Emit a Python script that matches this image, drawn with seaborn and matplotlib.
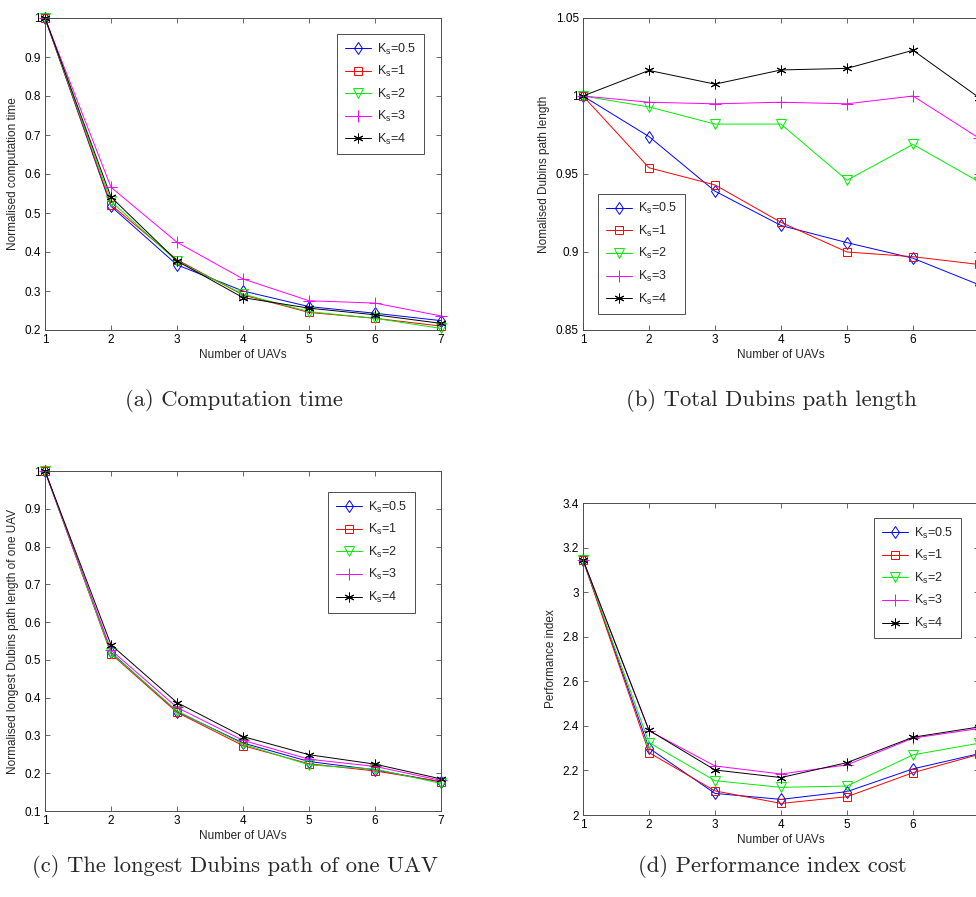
import matplotlib
matplotlib.use("Agg")
import matplotlib.pyplot as plt
import seaborn as sns
from matplotlib.lines import Line2D
from matplotlib.ticker import FuncFormatter

n_uavs = [1, 2, 3, 4, 5, 6, 7]
ks_values = ["0.5", "1", "2", "3", "4"]

# (a) normalised computation time
time_ks05 = [1.0, 0.517, 0.367, 0.300, 0.260, 0.243, 0.224]
time_ks1 = [1.0, 0.521, 0.380, 0.290, 0.245, 0.230, 0.210]
time_ks2 = [1.0, 0.530, 0.376, 0.292, 0.247, 0.230, 0.204]
time_ks3 = [1.0, 0.566, 0.425, 0.331, 0.275, 0.269, 0.236]
time_ks4 = [1.0, 0.541, 0.377, 0.283, 0.256, 0.239, 0.217]

# (b) normalised total Dubins path length
total_ks05 = [1.0, 0.974, 0.939, 0.917, 0.906, 0.896, 0.879]
total_ks1 = [1.0, 0.954, 0.943, 0.919, 0.900, 0.897, 0.892]
total_ks2 = [1.0, 0.993, 0.982, 0.982, 0.946, 0.969, 0.945]
total_ks3 = [1.0, 0.996, 0.995, 0.996, 0.995, 1.0, 0.973]
total_ks4 = [1.0, 1.0164, 1.0076, 1.0167, 1.0177, 1.0293, 0.999]

# (c) normalised longest Dubins path of one UAV
longest_ks05 = [1.0, 0.520, 0.363, 0.280, 0.231, 0.209, 0.177]
longest_ks1 = [1.0, 0.516, 0.361, 0.273, 0.225, 0.206, 0.178]
longest_ks2 = [1.0, 0.518, 0.365, 0.277, 0.222, 0.211, 0.173]
longest_ks3 = [1.0, 0.526, 0.374, 0.287, 0.237, 0.218, 0.181]
longest_ks4 = [1.0, 0.540, 0.387, 0.297, 0.249, 0.224, 0.185]

# (d) performance index
perf_ks05 = [3.145, 2.300, 2.097, 2.070, 2.105, 2.207, 2.275]
perf_ks1 = [3.145, 2.280, 2.108, 2.052, 2.082, 2.190, 2.272]
perf_ks2 = [3.145, 2.325, 2.154, 2.124, 2.130, 2.270, 2.322]
perf_ks3 = [3.145, 2.378, 2.220, 2.184, 2.225, 2.345, 2.388]
perf_ks4 = [3.145, 2.380, 2.202, 2.168, 2.235, 2.349, 2.395]

colors = ["#0000ff", "#ff0000", "#00ee00", "#ff00ff", "#000000"]
markers = ["d", "s", "v", "+", (6, 2, 0)]
marker_sizes = [6.5, 6, 7, 8, 7]

sns.set_theme(style="ticks")
plt.rcParams["font.family"] = ["Liberation Sans", "DejaVu Sans"]
plt.rcParams["mathtext.default"] = "regular"
plt.rcParams["axes.edgecolor"] = "0.3"
plt.rcParams["axes.linewidth"] = 0.7

fig = plt.figure(figsize=(9.76, 8.97), dpi=100)


def px_axes(left, top, right, bottom):
    return fig.add_axes([left / 976, 1 - bottom / 897,
                         (right - left) / 976, (bottom - top) / 897])


def draw_panel(ax, series, ylim, yticks, ylabel, loc, anchor, cut_right=False):
    handles = []
    for vals, c, m, s in zip(series, colors, markers, marker_sizes):
        style = dict(color=c, marker=m, ms=s, mfc="none", mec=c, mew=0.7, lw=0.7)
        sns.lineplot(x=n_uavs, y=vals, ax=ax, clip_on=False, **style)
        handles.append(Line2D([], [], **style))
    ax.set_xlim(1, 7)
    ax.set_ylim(*ylim)
    ax.set_xticks(n_uavs)
    # the right panels run off the page edge, so the last label is not shown
    xlabels = [str(n) for n in n_uavs]
    if cut_right:
        xlabels[-1] = ""
    ax.set_xticklabels(xlabels)
    ax.set_yticks(yticks)
    ax.yaxis.set_major_formatter(FuncFormatter(lambda v, p: f"{v:g}"))
    ax.tick_params(direction="in", top=True, right=True, length=3.5,
                   width=0.6, colors="0.3", labelcolor="black",
                   labelsize=8.5, pad=3)
    ax.set_xlabel("Number of UAVs", fontsize=8.5, labelpad=2)
    ax.set_ylabel(ylabel, fontsize=8.5, labelpad=4)
    leg = ax.legend(handles=handles,
                    labels=[r"K$_{s}$=" + ks for ks in ks_values],
                    loc=loc, bbox_to_anchor=anchor, borderaxespad=0,
                    fontsize=9, handlelength=2.1, labelspacing=0.6,
                    fancybox=False, framealpha=1, borderpad=0.6,
                    handletextpad=0.5)
    leg.get_frame().set_edgecolor("0.3")
    leg.get_frame().set_linewidth(0.7)


ax_a = px_axes(45, 18, 441, 330)
draw_panel(ax_a, [time_ks05, time_ks1, time_ks2, time_ks3, time_ks4],
           (0.2, 1.0), [0.2, 0.3, 0.4, 0.5, 0.6, 0.7, 0.8, 0.9, 1.0],
           "Normalised computation time", "upper right", (0.957, 0.949))

ax_b = px_axes(583, 18, 979, 330)
draw_panel(ax_b, [total_ks05, total_ks1, total_ks2, total_ks3, total_ks4],
           (0.85, 1.05), [0.85, 0.9, 0.95, 1.0, 1.05],
           "Nomalised Dubins path length", "lower left", (0.038, 0.051),
           cut_right=True)

ax_c = px_axes(45, 471, 441, 811)
draw_panel(ax_c, [longest_ks05, longest_ks1, longest_ks2, longest_ks3, longest_ks4],
           (0.1, 1.0), [0.1, 0.2, 0.3, 0.4, 0.5, 0.6, 0.7, 0.8, 0.9, 1.0],
           "Normalised longest Dubins path length of one UAV", "upper right",
           (0.934, 0.938))

ax_d = px_axes(583, 503, 979, 815)
draw_panel(ax_d, [perf_ks05, perf_ks1, perf_ks2, perf_ks3, perf_ks4],
           (2.0, 3.4), [2.0, 2.2, 2.4, 2.6, 2.8, 3.0, 3.2, 3.4],
           "Performance index", "upper right", (0.955, 0.952),
           cut_right=True)

captions = ["(a) Computation time", "(b) Total Dubins path length",
            "(c) The longest Dubins path of one UAV", "(d) Performance index cost"]
caption_xy = [(234, 400), (771, 400), (235, 866), (772, 866)]
for text, (cx, cy) in zip(captions, caption_xy):
    fig.text(cx / 976, 1 - cy / 897, text, ha="center", va="center",
             fontsize=16.3, family="cmr10")

fig.savefig("out.png", dpi=100)
